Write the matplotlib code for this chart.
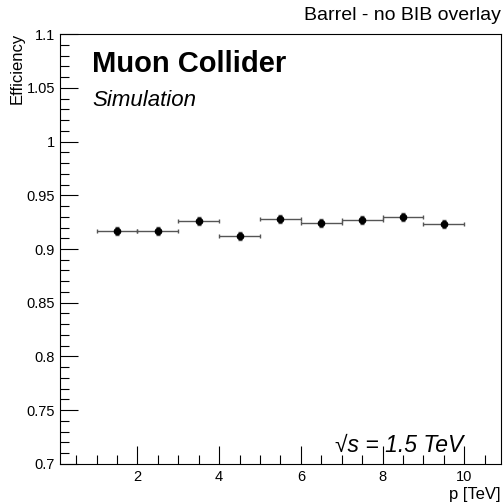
import matplotlib
matplotlib.use("Agg")
import matplotlib.pyplot as plt
from matplotlib.ticker import MultipleLocator

plt.rcParams['font.family'] = ['Liberation Sans', 'DejaVu Sans']

# bin centres, half widths and efficiency per momentum bin
p_center = [1.5, 2.5, 3.5, 4.5, 5.5, 6.5, 7.5, 8.5, 9.5]
p_halfwidth = [0.5] * 9
efficiency = [0.917, 0.917, 0.926, 0.912, 0.928, 0.924, 0.927, 0.930, 0.923]
eff_err = [0.0037, 0.0037, 0.0037, 0.0037, 0.0037, 0.0037, 0.0037, 0.0037, 0.0037]

fig = plt.figure(figsize=(5.03, 5.04), dpi=100)
ax = fig.add_axes([0.119, 0.0794, 0.877, 0.8531])

ax.errorbar(p_center, efficiency, xerr=p_halfwidth, yerr=eff_err,
            fmt='o', color='black', ecolor='#555555', elinewidth=1,
            markersize=4.5, capsize=1.5, capthick=1)

ax.set_xlim(0.1, 10.9)
ax.set_ylim(0.7, 1.1)
ax.xaxis.set_major_locator(MultipleLocator(2))
ax.xaxis.set_minor_locator(MultipleLocator(0.5))
ax.yaxis.set_major_locator(MultipleLocator(0.05))
ax.yaxis.set_minor_locator(MultipleLocator(0.01))
ax.yaxis.set_major_formatter(plt.FuncFormatter(lambda v, _: ('%.2f' % v).rstrip('0').rstrip('.')))

ax.tick_params(which='both', direction='in', top=False, right=False, labelsize=10.5)
ax.tick_params(which='major', length=13, width=0.8)
ax.tick_params(which='minor', length=6.5, width=0.8)
ax.tick_params(axis='x', pad=4)
for s in ax.spines.values():
    s.set_linewidth(0.8)

fig.text(0.995, 0.960, 'Barrel - no BIB overlay', ha='right', va='baseline', fontsize=14)
fig.text(0.995, 0.009, 'p [TeV]', ha='right', va='baseline', fontsize=12)
fig.text(0.035, 0.935, 'Efficiency', ha='center', va='top', rotation=90, fontsize=12)

ax.text(0.073, 0.912, 'Muon Collider', transform=ax.transAxes, fontsize=21,
        fontweight='bold', va='baseline')
ax.text(0.073, 0.833, 'Simulation', transform=ax.transAxes, fontsize=16,
        fontstyle='italic', va='baseline')
ax.text(0.623, 0.028, '\u221As = 1.5 TeV', transform=ax.transAxes, fontsize=16.5,
        fontstyle='italic', va='baseline')

fig.savefig('out.png', dpi=100)
